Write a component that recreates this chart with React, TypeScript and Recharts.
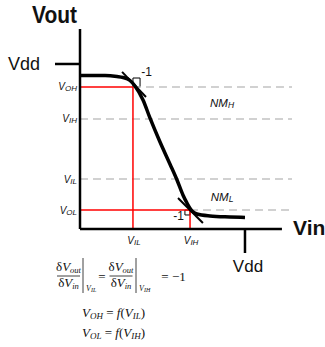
import React from 'react';
import {
    LineChart,
    Line,
    XAxis,
    YAxis,
    ReferenceLine,
    ReferenceArea,
    ReferenceDot
} from 'recharts';

// all voltages in units of Vdd
const vinPoints = [0, 0.152, 0.224, 0.261, 0.303, 0.333, 0.382, 0.424, 0.485, 0.545, 0.588, 0.624, 0.648, 0.679, 0.709, 0.788, 0.909, 1.0];
const voutPoints = [0.93, 0.93, 0.924, 0.918, 0.9, 0.867, 0.782, 0.673, 0.527, 0.394, 0.297, 0.206, 0.158, 0.109, 0.091, 0.079, 0.073, 0.07];

// levels marked on the Vout axis
const outLevelNames = ['OH', 'IH', 'IL', 'OL'];
const outLevels = [0.861, 0.667, 0.303, 0.115];
const dashFrom = [0.321, 0, 0, 0.667];

// levels marked on the Vin axis
const inLevelNames = ['IL', 'IH'];
const inLevels = [0.321, 0.667];

const vdd = 1;
const xMax = 1.285;
const yMax = 1.212;
const xAxisEnd = 1.224;

// slope -1 tangents at (VIL, VOH) and (VIH, VOL)
const upperTangent = [{ x: 0.255, y: 0.952 }, { x: 0.4, y: 0.8 }];
const lowerTangent = [{ x: 0.594, y: 0.188 }, { x: 0.745, y: 0.036 }];

const data = vinPoints.map((v, i) => ({ vin: v, vout: voutPoints[i] }));

const sans = '"Liberation Sans", Arial, sans-serif';
const serif = '"Liberation Serif", "Times New Roman", serif';
const ink = '#111';
const dashGrey = '#c2c2c2';
const red = '#ff0000';

const VSub = ({ x, y, sub, anchor = 'start', size = 10 }: any) => (
    <text x={x} y={y} textAnchor={anchor} fontFamily={sans} fontStyle="italic" fontSize={size} fill={ink}>
        V<tspan fontSize={size * 0.8} dy={1}>{sub}</tspan>
    </text>
);

const YTick = ({ x, y, payload }: any) => {
    if (payload.value === vdd) {
        return (
            <g>
                <line x1={x - 25} x2={x} y1={y} y2={y} stroke="#000" strokeWidth={2.5} />
                <text x={x - 40} y={y + 6.5} textAnchor="end" fontFamily={sans} fontSize={18} fill={ink}>Vdd</text>
            </g>
        );
    }
    const i = outLevels.indexOf(payload.value);
    return <VSub x={x - 3} y={y + 3.5} sub={outLevelNames[i]} anchor="end" />;
};

const XTick = ({ x, y, payload }: any) => {
    if (payload.value === vdd) {
        return (
            <g>
                <line x1={x} x2={x} y1={y} y2={y + 24} stroke="#000" strokeWidth={2.5} />
                <text x={x + 3} y={y + 43} textAnchor="middle" fontFamily={sans} fontSize={17} fill={ink}>Vdd</text>
            </g>
        );
    }
    const i = inLevels.indexOf(payload.value);
    return <VSub x={x + 1} y={y + 15} sub={inLevelNames[i]} anchor="middle" />;
};

const NoiseMargin = ({ cx, cy, sub }: any) => (
    <text x={cx} y={cy + 4} textAnchor="middle" fontFamily={sans} fontStyle="italic" fontSize={11.5} fill={ink}>
        NM<tspan fontSize={8.5} dy={1.5}>{sub}</tspan>
    </text>
);

const SlopeLabel = ({ cx, cy }: any) => (
    <text x={cx} y={cy + 4} textAnchor="middle" fontFamily={sans} fontSize={12} fill={ink}>-1</text>
);

const Frac = ({ cx, bar, at }: any) => (
    <g>
        <text x={cx} y={271} textAnchor="middle" fontSize={13}>
            δ<tspan fontStyle="italic">V</tspan><tspan fontStyle="italic" fontSize={8.5} dy={2}>out</tspan>
        </text>
        <line x1={cx - 11.5} x2={cx + 11.5} y1={276} y2={276} stroke={ink} strokeWidth={0.8} />
        <text x={cx} y={287} textAnchor="middle" fontSize={13}>
            δ<tspan fontStyle="italic">V</tspan><tspan fontStyle="italic" fontSize={8.5} dy={2}>in</tspan>
        </text>
        <line x1={bar} x2={bar} y1={258} y2={293} stroke={ink} strokeWidth={0.8} />
        <text x={bar + 3} y={291} fontSize={8} fontStyle="italic">
            V<tspan fontSize={6} dy={1}>{at}</tspan>
        </text>
    </g>
);

const Relation = ({ y, out, inp }: any) => (
    <text x={82} y={y} fontSize={13}>
        <tspan fontStyle="italic">V</tspan>
        <tspan fontStyle="italic" fontSize={9} dy={2}>{out}</tspan>
        <tspan dy={-2}> = </tspan>
        <tspan fontStyle="italic">f</tspan>(<tspan fontStyle="italic">V</tspan>
        <tspan fontStyle="italic" fontSize={9} dy={2}>{inp}</tspan>
        <tspan dy={-2}>)</tspan>
    </text>
);

const Formula = () => (
    <svg width={325} height={347} style={{ position: 'absolute', left: 0, top: 0 }} fontFamily={serif} fill={ink}>
        <Frac cx={68.5} bar={83} at="IL" />
        <text x={102} y={281} textAnchor="middle" fontSize={13}>=</text>
        <Frac cx={121} bar={136} at="IH" />
        <text x={165} y={281} textAnchor="middle" fontSize={13}>=</text>
        <text x={172} y={281} fontSize={13}>−1</text>
        <Relation y={317} out="OH" inp="IL" />
        <Relation y={337} out="OL" inp="IH" />
    </svg>
);

const App: React.FC = () => {
    return (
        <div style={{ position: 'absolute', left: 0, top: 0, width: 325, height: 347, background: '#fff' }}>
            <LineChart
                width={325}
                height={347}
                data={data}
                margin={{ top: 29, right: 33, left: 79, bottom: 117 }}
                style={{ overflow: 'visible' }}
            >
                <XAxis
                    type="number"
                    dataKey="vin"
                    domain={[0, xMax]}
                    ticks={[...inLevels, vdd]}
                    interval={0}
                    axisLine={false}
                    tickLine={false}
                    tickSize={0}
                    tickMargin={0}
                    height={1}
                    tick={(p: any) => <XTick {...p} />}
                    label={(p: any) => (
                        <text x={p.viewBox.x + p.viewBox.width + 1} y={p.viewBox.y + 6} fontFamily={sans} fontWeight="bold" fontSize={21} fill={ink}>Vin</text>
                    )}
                />
                <YAxis
                    type="number"
                    domain={[0, yMax]}
                    ticks={[...outLevels, vdd]}
                    interval={0}
                    axisLine={{ stroke: '#000', strokeWidth: 2.5 }}
                    tickLine={false}
                    tickSize={0}
                    tickMargin={0}
                    width={1}
                    tick={(p: any) => <YTick {...p} />}
                    label={(p: any) => (
                        <text x={p.viewBox.x - 2} y={p.viewBox.y - 6} textAnchor="end" textLength={45} lengthAdjust="spacingAndGlyphs" fontFamily={sans} fontWeight="bold" fontSize={23} fill={ink}>Vout</text>
                    )}
                />

                {outLevels.map((lv, i) => (
                    <ReferenceLine
                        key={outLevelNames[i]}
                        segment={[{ x: dashFrom[i], y: lv }, { x: xMax, y: lv }]}
                        stroke={dashGrey}
                        strokeWidth={1.5}
                        strokeDasharray="8 5"
                    />
                ))}

                <ReferenceLine segment={[{ x: 0, y: outLevels[0] }, { x: inLevels[0], y: outLevels[0] }]} stroke={red} strokeWidth={1.5} />
                <ReferenceLine segment={[{ x: inLevels[0], y: 0 }, { x: inLevels[0], y: outLevels[0] }]} stroke={red} strokeWidth={1.5} />
                <ReferenceLine segment={[{ x: 0, y: outLevels[3] }, { x: inLevels[1], y: outLevels[3] }]} stroke={red} strokeWidth={1.5} />
                <ReferenceLine segment={[{ x: inLevels[1], y: 0 }, { x: inLevels[1], y: outLevels[3] }]} stroke={red} strokeWidth={1.5} />

                <ReferenceLine segment={[{ x: 0, y: 0 }, { x: xAxisEnd, y: 0 }]} stroke="#000" strokeWidth={2.5} />

                <ReferenceArea x1={0.321} x2={0.364} y1={0.861} y2={0.915} fill="none" stroke="#000" strokeWidth={1} />
                <ReferenceArea x1={0.636} x2={0.667} y1={0.085} y2={0.115} fill="none" stroke="#000" strokeWidth={1} />

                <ReferenceLine segment={upperTangent} stroke="#000" strokeWidth={2} />
                <ReferenceLine segment={lowerTangent} stroke="#000" strokeWidth={2} />

                <Line
                    type="monotone"
                    dataKey="vout"
                    stroke="#000"
                    strokeWidth={3.5}
                    dot={false}
                    activeDot={false}
                    isAnimationActive={false}
                />

                <ReferenceDot x={0.861} y={0.764} r={0} shape={(p: any) => <NoiseMargin cx={p.cx} cy={p.cy} sub="H" />} />
                <ReferenceDot x={0.861} y={0.194} r={0} shape={(p: any) => <NoiseMargin cx={p.cx} cy={p.cy} sub="L" />} />
                <ReferenceDot x={0.403} y={0.952} r={0} shape={(p: any) => <SlopeLabel cx={p.cx} cy={p.cy} />} />
                <ReferenceDot x={0.597} y={0.079} r={0} shape={(p: any) => <SlopeLabel cx={p.cx} cy={p.cy} />} />
            </LineChart>
            <Formula />
        </div>
    );
};

export default App;
